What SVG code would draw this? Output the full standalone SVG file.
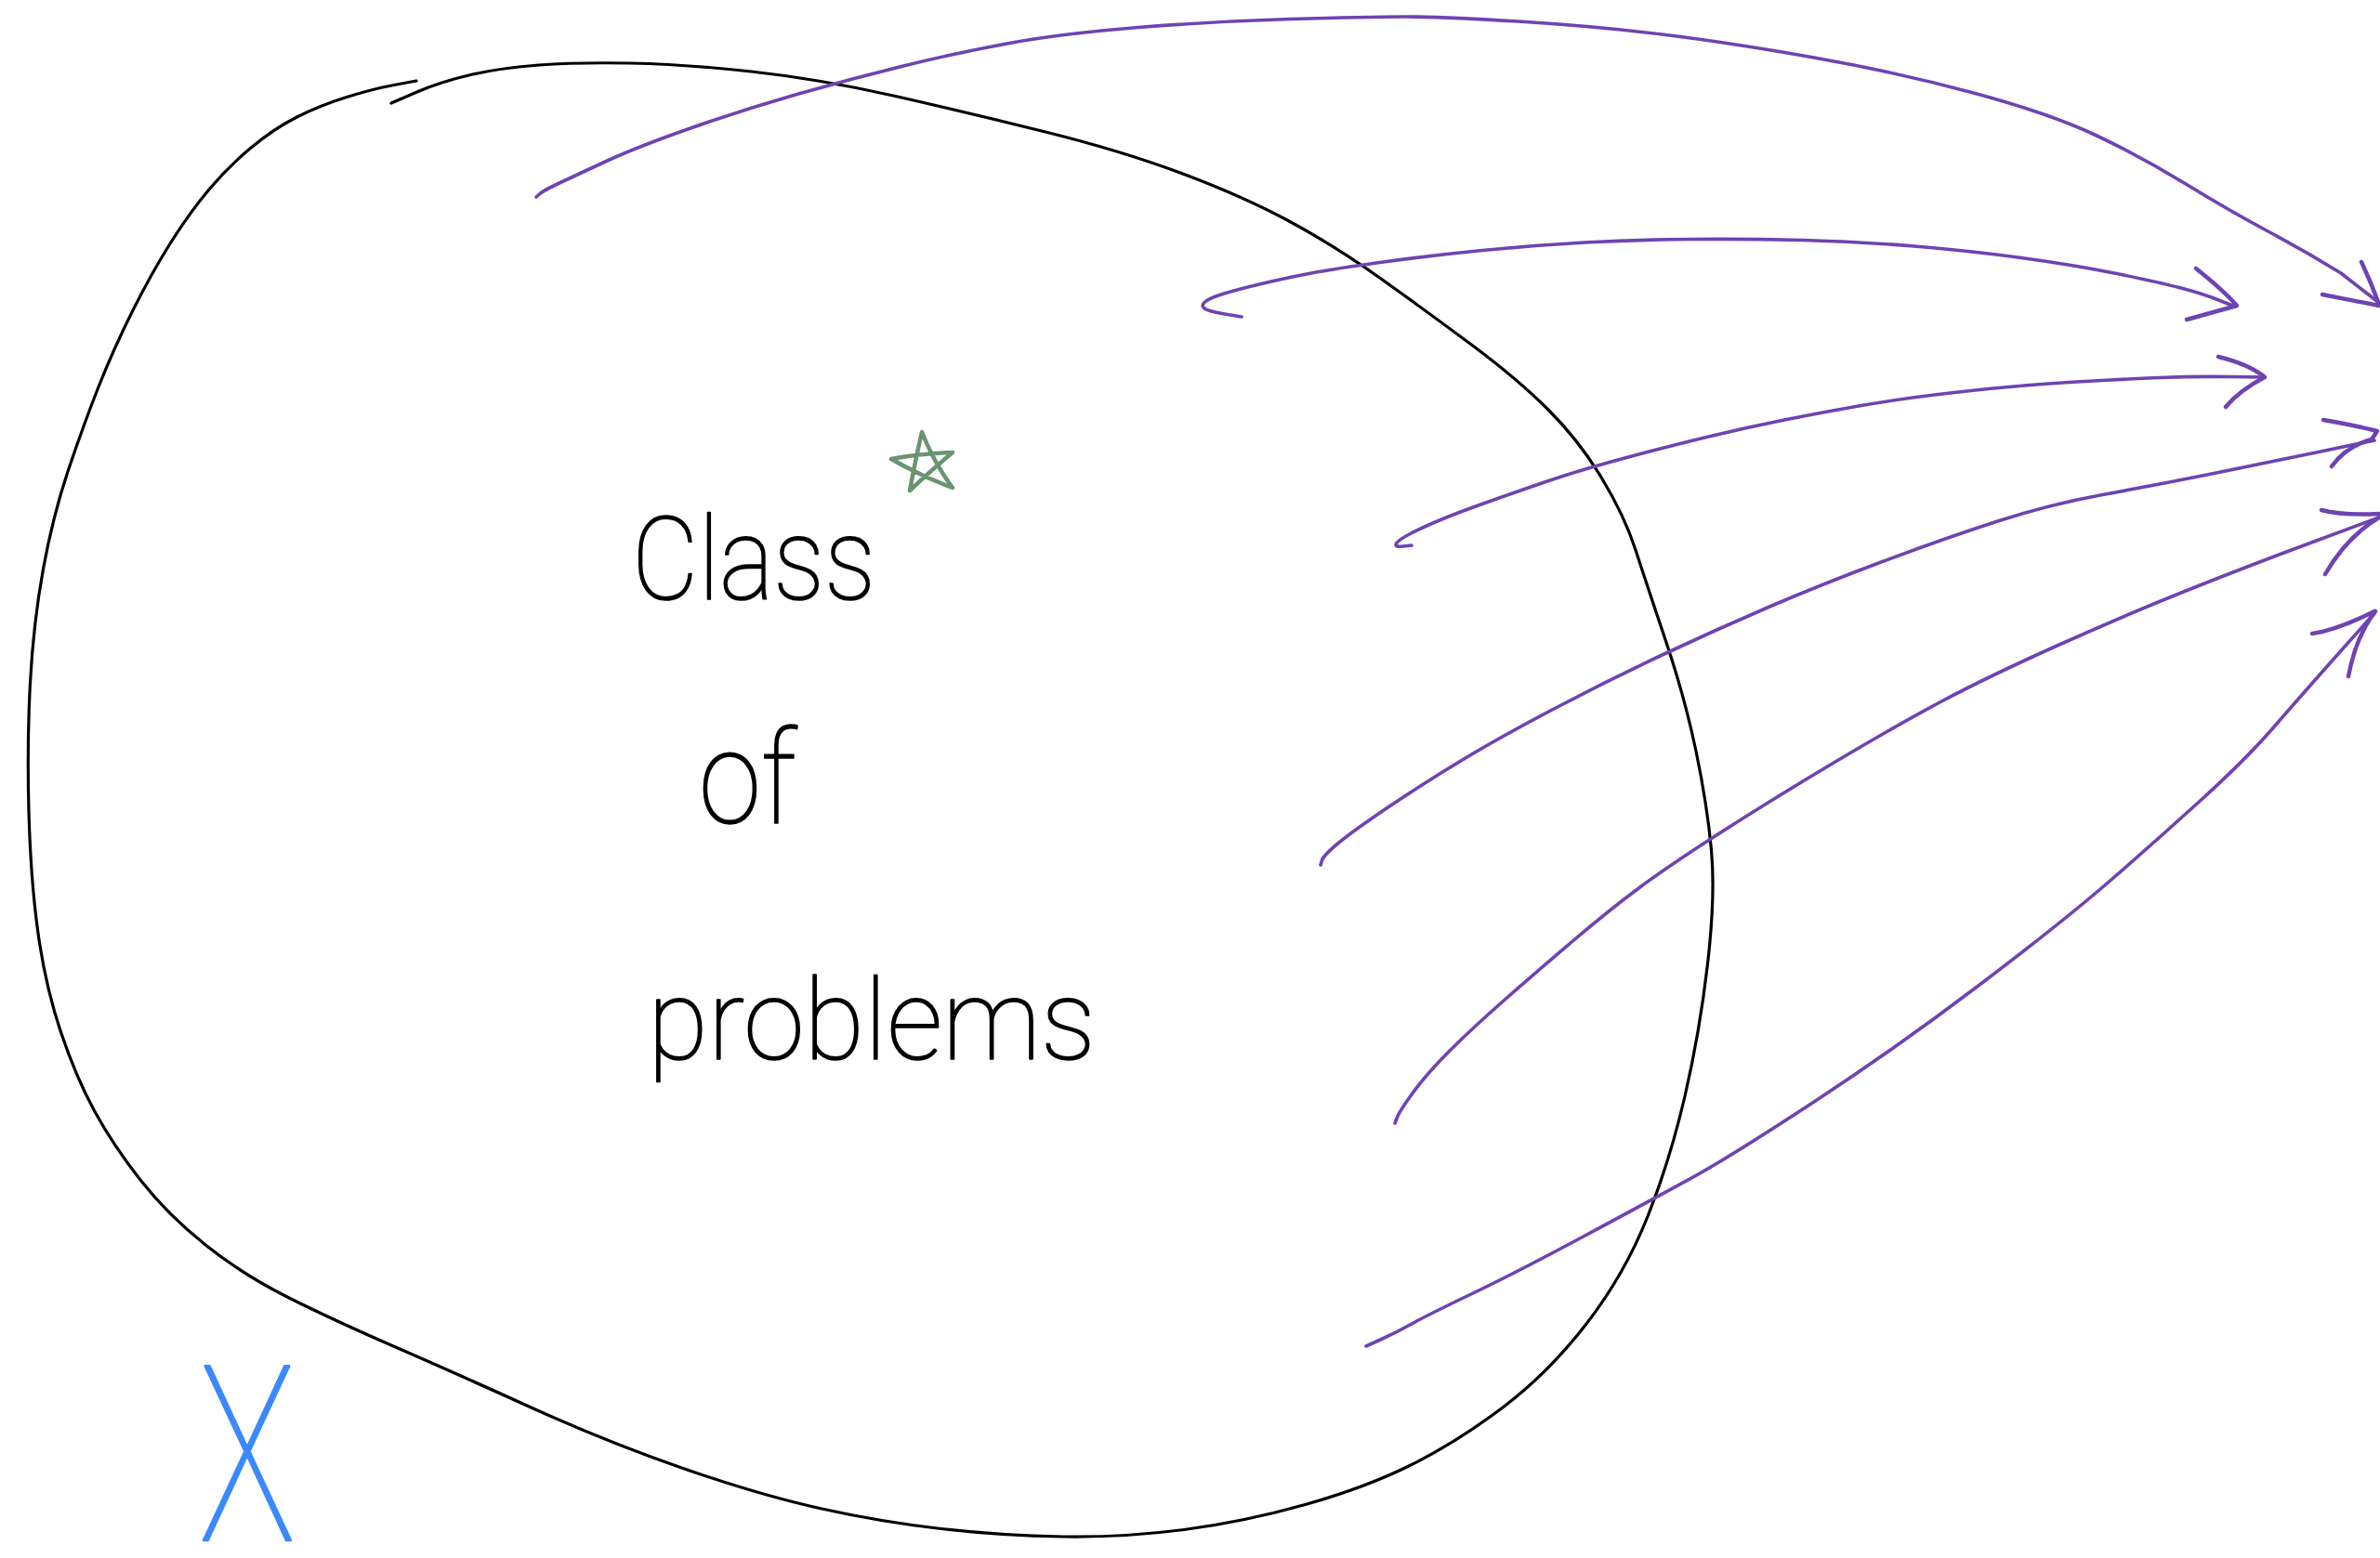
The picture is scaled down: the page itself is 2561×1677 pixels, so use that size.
<svg xmlns="http://www.w3.org/2000/svg" width="2561" height="1677" viewBox="0 0 2561 1677">
<style>
.bg{fill:#ffffff}
.outline{fill:none;stroke:#000000;stroke-width:3.2;stroke-linecap:round;stroke-linejoin:round}
.arrow{fill:none;stroke:#6e43b3;stroke-width:3.6;stroke-linecap:round;stroke-linejoin:round}
.head{fill:none;stroke:#6e43b3;stroke-width:4.5;stroke-linecap:round;stroke-linejoin:round}
.hand{font-family:Roboto,"Liberation Sans",sans-serif;font-weight:100;fill:#000000;stroke:#000000;stroke-width:1.6;stroke-linejoin:round}
.star{fill:none;stroke:#6a9470;stroke-width:4.5;stroke-linecap:round;stroke-linejoin:round}
.xmark{font-family:Roboto,"Liberation Sans",sans-serif;font-weight:100;fill:#3c89fd;stroke:#3c89fd;stroke-width:2.4;stroke-linejoin:round}
</style>
<rect class="bg" x="0" y="0" width="2561" height="1677"/>
<g id="problem-class">
<path class="outline" d="M448,87 L424,91.5 Q400,96 371.5,105 Q343,114 318.5,126.5 Q294,139 269.5,159.5 Q245,180 224.5,204.5 Q204,229 183.5,261.5 Q163,294 142.5,335 Q122,376 106,416.5 Q90,457 73.5,506 Q57,555 46.5,612.5 Q36,670 32.5,735 Q29,800 31,873.5 Q33,947 41,1004.5 Q49,1062 65.5,1111 Q82,1160 102,1196.5 Q122,1233 151,1270 Q180,1307 220.5,1339.5 Q261,1372 310,1396.5 Q359,1421 424.5,1449.5 Q490,1478 571.5,1515 Q653,1552 735,1580.5 Q817,1609 882,1623.5 Q947,1638 1012.5,1645.5 Q1078,1653 1143.5,1654 Q1209,1655 1274,1646.5 Q1339,1638 1404.5,1619.5 Q1470,1601 1519,1576.5 Q1568,1552 1617,1515 Q1666,1478 1707,1425 Q1748,1372 1772.5,1310.5 Q1797,1249 1813,1180 Q1829,1111 1837.5,1037.5 Q1846,964 1841.5,915 Q1837,866 1825,808.5 Q1813,751 1792.5,690 Q1772,629 1760,592 Q1748,555 1723.5,514.5 Q1699,474 1666,441 Q1633,408 1584,371.5 Q1535,335 1486,300 Q1437,265 1388,238.5 Q1339,212 1274,187.5 Q1209,163 1127,142.5 Q1045,122 963.5,103.5 Q882,85 808.5,77 Q735,69 678,68 Q621,67 580,70 Q539,73 506.5,80.5 Q474,88 447.5,99.5 L421,111"/>
<text class="hand" x="680" y="645" font-size="124" textLength="262" lengthAdjust="spacingAndGlyphs">Class</text>
<text class="hand" x="752" y="886" font-size="140" textLength="105" lengthAdjust="spacingAndGlyphs">of</text>
<text class="hand" x="697" y="1140" font-size="120" textLength="482" lengthAdjust="spacingAndGlyphs">problems</text>
</g>
<g id="star">
<path class="star" d="M979,528 Q985,495 992,465 Q1005,498 1025,525 Q990,512 959,494 Q992,488 1025,487 Q1000,508 979,528"/>
</g>
<g id="x-label">
<text class="xmark" x="214" y="1658" font-size="264" textLength="104" lengthAdjust="spacingAndGlyphs">X</text>
</g>
<g id="connectors">
<path class="arrow" d="M577,212 L581,208.5 Q585,205 603,196.5 Q621,188 653.5,173 Q686,158 743,138 Q800,118 857.5,101.5 Q915,85 972,71 Q1029,57 1086,46.5 Q1143,36 1225,29.5 Q1307,23 1388.5,20.5 Q1470,18 1511,18 Q1552,18 1633.5,23 Q1715,28 1788.5,37 Q1862,46 1952,62 Q2042,78 2123.5,100 Q2205,122 2254,145 Q2303,168 2352,198 Q2401,228 2440.5,249 Q2480,270 2519,294 L2560,326"/>
<path class="head" d="M2541,282 Q2552,305 2560,328 M2499,317 L2560,329"/>
<path class="arrow" d="M1336,341 L1318,338 Q1300,335 1296,332 Q1292,329 1296.5,325 Q1301,321 1315.5,316.5 Q1330,312 1355,306 Q1380,300 1408.5,294.5 Q1437,289 1488.5,282 Q1540,275 1595,269.5 Q1650,264 1705,261 Q1760,258 1820,257.5 Q1880,257 1940,258.5 Q2000,260 2060,265 Q2120,270 2175,277.5 Q2230,285 2275,294 Q2320,303 2345,309.5 Q2370,316 2387.5,323 L2405,330"/>
<path class="head" d="M2363,289 Q2392,312 2407,329 L2353,344"/>
<path class="arrow" d="M1519,587 L1509.5,588 Q1500,589 1502.5,585 Q1505,581 1517.5,574.5 Q1530,568 1549,560 Q1568,552 1599,541 Q1630,530 1665,518 Q1700,506 1748.5,493 Q1797,480 1838.5,470 Q1880,460 1920,452 Q1960,444 2000,437 Q2040,430 2081.5,425 Q2123,420 2161.5,416.5 Q2200,413 2243.5,410.5 Q2287,408 2323.5,406.5 Q2360,405 2398,405.5 L2436,406"/>
<path class="head" d="M2387,384 Q2420,392 2437,406 Q2410,420 2395,438"/>
<path class="arrow" d="M1421,931 L1422.5,926 Q1424,921 1439.5,908 Q1455,895 1495,868 Q1535,841 1576,816.5 Q1617,792 1674,762 Q1731,732 1788.5,705 Q1846,678 1903,653.5 Q1960,629 2025.5,604.5 Q2091,580 2148,561.5 Q2205,543 2262.5,532.5 Q2320,522 2375,511 Q2430,500 2492.5,487 L2555,474"/>
<path class="head" d="M2500,452 Q2535,458 2558,464 L2552,473 Q2525,480 2509,502"/>
<path class="arrow" d="M1501,1209 L1503.5,1202.5 Q1506,1196 1520.5,1176 Q1535,1156 1559.5,1131.5 Q1584,1107 1617,1078 Q1650,1049 1690.5,1014.5 Q1731,980 1764,955.5 Q1797,931 1854,894.5 Q1911,858 1976.5,819 Q2042,780 2091,754 Q2140,728 2213.5,695 Q2287,662 2352,636 Q2417,610 2488.5,583.5 L2560,557"/>
<path class="head" d="M2498,549 Q2520,555 2560,553 M2502,618 Q2525,578 2560,557"/>
<path class="arrow" d="M1470,1449 L1486.5,1441.5 Q1503,1434 1519,1425 Q1535,1416 1584,1392.5 Q1633,1369 1706.5,1329.5 Q1780,1290 1821,1267.5 Q1862,1245 1952,1186 Q2042,1127 2131.5,1059 Q2221,991 2270,948.5 Q2319,906 2368,861.5 Q2417,817 2446,783.5 Q2475,750 2515,705 L2555,660"/>
<path class="head" d="M2488,682 Q2515,678 2555,658 M2527,728 Q2535,685 2556,658"/>
</g>
</svg>
